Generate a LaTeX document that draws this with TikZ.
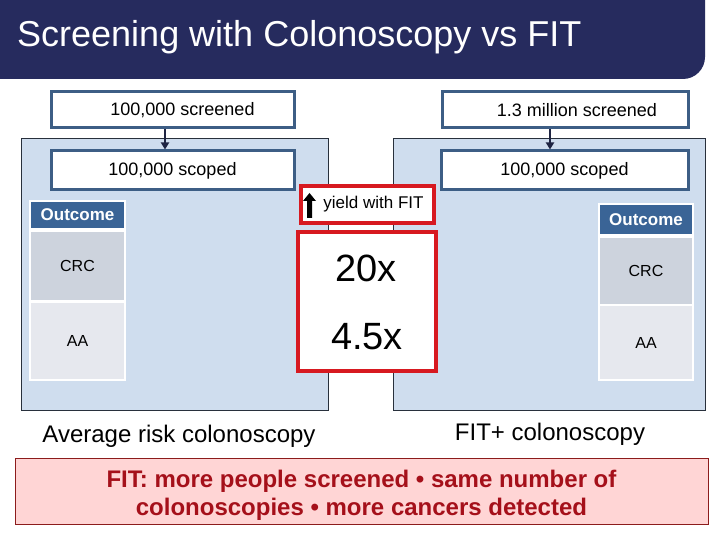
\documentclass[tikz,border=0pt]{standalone}
\usepackage{fontspec}
\setmainfont{Liberation Sans}
\usetikzlibrary{arrows.meta}
\definecolor{navy}{RGB}{38,43,94}
\definecolor{panelfill}{RGB}{207,221,238}
\definecolor{panelline}{RGB}{40,48,60}
\definecolor{boxblue}{RGB}{61,94,133}
\definecolor{arrowc}{RGB}{30,36,66}
\definecolor{headc}{RGB}{58,100,150}
\definecolor{crcc}{RGB}{205,211,221}
\definecolor{aac}{RGB}{230,232,238}
\definecolor{redc}{RGB}{215,25,32}
\definecolor{pinkc}{RGB}{255,213,213}
\definecolor{pinkline}{RGB}{140,28,28}
\definecolor{pinktext}{RGB}{165,16,26}
\newcommand{\myfs}[1]{\fontsize{#1}{#1}\selectfont}
\tikzset{
  panel/.style={draw=panelline, line width=1pt, fill=panelfill, inner sep=0pt},
  bluebox/.style={draw=boxblue, line width=3pt, fill=white, inner sep=0pt, font=\myfs{18}},
  redbox/.style={draw=redc, line width=4pt, fill=white, inner sep=0pt},
  cellbg/.style={fill=white, inner sep=0pt},
  headcell/.style={fill=headc, text=white, inner sep=0pt, font=\bfseries\myfs{17}},
  crccell/.style={fill=crcc, inner sep=0pt, font=\myfs{16}},
  aacell/.style={fill=aac, inner sep=0pt, font=\myfs{16}},
  flowarrow/.style={draw=arrowc, line width=2.5pt, -{Triangle[length=7pt,width=8pt]}},
  bigval/.style={inner sep=0pt, font=\myfs{38}},
  caption/.style={inner sep=0pt, anchor=base, font=\myfs{24}},
  sumtext/.style={inner sep=0pt, anchor=base, text=pinktext, font=\bfseries\myfs{24}}
}
\begin{document}
\begin{tikzpicture}[x=1pt,y=-1pt]
\useasboundingbox (0,0) rectangle (720,540);
\fill[white] (0,0) rectangle (720,540);
% title bar
\fill[navy] (0,0) -- (705,0) -- (705,57) arc[start angle=0,end angle=90,radius=22] -- (0,79) -- cycle;
\node[anchor=base west, inner sep=0pt, text=white, font=\myfs{36}] (title) at (17,47) {Screening with Colonoscopy vs FIT};

% panels
\node[panel, minimum width=307pt, minimum height=271pt] (lpanel) at (174.5,274.5) {};
\node[panel, minimum width=312pt, minimum height=271pt] (rpanel) at (549,274.5) {};

% screened / scoped boxes
\node[bluebox, minimum width=243pt, minimum height=36pt] (lscr) at (172.5,110) {\hspace*{20pt}100,000 screened};
\node[bluebox, minimum width=246pt, minimum height=36pt] (rscr) at (565,110) {\hspace*{24pt}1.3 million screened};
\node[bluebox, minimum width=243pt, minimum height=39pt] (lsco) at (172.5,170.5) {100,000 scoped};
\node[bluebox, minimum width=247pt, minimum height=39pt] (rsco) at (564.5,170.5) {100,000 scoped};
\draw[flowarrow] ([xshift=-7.5pt]lscr.south) -- ([xshift=-7.5pt]lscr.south |- lsco.north);
\draw[flowarrow] ([xshift=-15pt]rscr.south) -- ([xshift=-15pt]rscr.south |- rsco.north);

% left table
\node[cellbg, minimum width=97pt, minimum height=181pt] (ltab) at (77.5,290.5) {};
\node[headcell, minimum width=93pt, minimum height=26pt] (lhead) at (77.5,215) {Outcome};
\node[crccell, minimum width=93pt, minimum height=68pt] (lcrc) at (77.5,266) {CRC};
\node[aacell, minimum width=93pt, minimum height=76pt] (laa) at (77.5,341) {AA};
% right table
\node[cellbg, minimum width=96pt, minimum height=178pt] (rtab) at (646,292) {};
\node[headcell, minimum width=92pt, minimum height=29pt] (rhead) at (646,219.5) {Outcome};
\node[crccell, minimum width=92pt, minimum height=66pt] (rcrc) at (646,271) {CRC};
\node[aacell, minimum width=92pt, minimum height=73pt] (raa) at (646,342.5) {AA};

% red boxes
\node[redbox, minimum width=133pt, minimum height=37pt, font=\myfs{17}] (yield) at (367.5,204.5) {\hspace*{12pt}yield with FIT};
\fill[black, shift={(yield.west)}] (10.5,-11.5) -- (17,-3.5) -- (13,-3.5) -- (13,13.5) -- (8,13.5) -- (8,-3.5) -- (4,-3.5) -- cycle;
\node[redbox, minimum width=138pt, minimum height=139pt] (ratio) at (367,301.5) {};
\node[bigval] (v20) at (366,268) {20x};
\node[bigval] (v45) at (367,337) {4.5x};

% captions
\node[caption] (lcap) at (179,442) {Average risk colonoscopy};
\node[caption] (rcap) at (550,440) {FIT+ colonoscopy};

% bottom summary
\node[draw=pinkline, line width=1pt, fill=pinkc, minimum width=693pt, minimum height=66pt, inner sep=0pt] (summary) at (361.5,491) {};
\node[sumtext] (sum1) at (361.5,487) {FIT: more people screened • same number of};
\node[sumtext] (sum2) at (361.5,515) {colonoscopies • more cancers detected};
\end{tikzpicture}
\end{document}
